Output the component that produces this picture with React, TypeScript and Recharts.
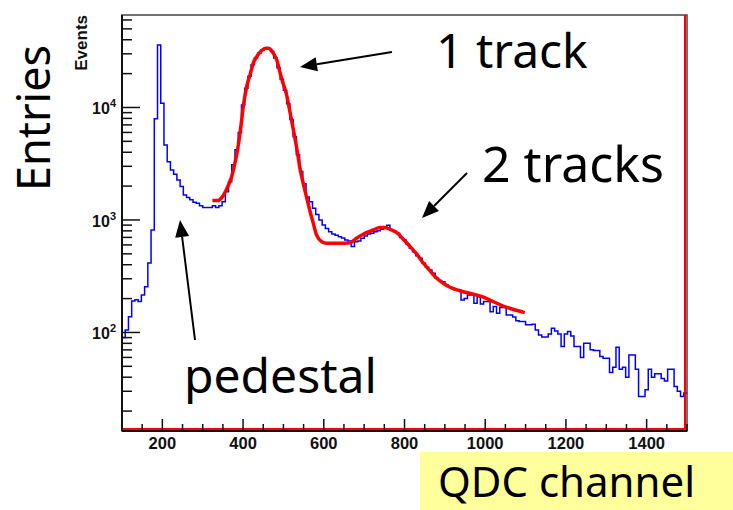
import { Line, LineChart, ReferenceArea, ReferenceLine, XAxis, YAxis } from "recharts";

// QDC spectrum, 8-channel bins starting at channel 100
const BIN_LOW = 100;
const BIN_WIDTH = 8;
const binEntries = [
  90, 105, 138, 190, 195, 188, 215, 255, 415, 815,
  7950, 36000, 10900, 4640, 3300, 2780, 2550, 2270, 1980, 1670,
  1580, 1510, 1440, 1410, 1340, 1290, 1290, 1290, 1340, 1290,
  1340, 1455, 1780, 2190, 3100, 4200, 6000, 10500, 14800, 19000,
  24000, 27600, 30300, 32500, 33500, 33600, 31500, 27500, 22500, 17800,
  14200, 10800, 7800, 5500, 3800, 2700, 2100, 1600, 1455, 1270,
  1120, 1000, 900, 840, 787, 750, 730, 711, 690, 664,
  650, 580, 641, 650, 688, 721, 751, 760, 787, 800,
  826, 860, 897, 815, 790, 760, 700, 664, 610, 560,
  523, 480, 456, 412, 380, 359, 336, 303, 290, 283,
  264, 255, 247, 239, 239, 194, 200, 215, 215, 182,
  208, 179, 188, 188, 153, 170, 148, 167, 167, 143,
  143, 137, 127, 125, 125, 117, 117, 118, 105, 95,
  91, 91, 97, 109, 103, 97, 75, 97, 102, 93,
  75, 75, 60, 80, 80, 70, 69, 69, 61, 59,
  59, 44, 49, 74, 47, 49, 40, 63, 63, 47,
  27, 27, 31, 47, 40, 43, 43, 39, 37, 47,
  47, 33, 30, 27, 29,
];

// fitted curve (1 track + 2 tracks + tail)
const fitChannel = [
  324, 338, 346, 354, 362, 371, 379, 387, 396, 401,
  409, 417, 425, 433, 441, 449, 457, 463, 470, 477,
  485, 491, 498, 508, 516, 524, 533, 541, 549, 557,
  566, 574, 582, 595, 607, 640, 665, 681, 702, 723,
  739, 752, 764, 781, 797, 814, 830, 847, 863, 880,
  896, 913, 937, 970, 999, 1012, 1037, 1061, 1098,
];
const fitValue = [
  1490, 1490, 1560, 1720, 1980, 2380, 3100, 4340, 7480, 10500,
  15300, 19400, 24700, 28000, 30800, 32700, 33600, 33700, 32200, 29500,
  25500, 20800, 16900, 12900, 9200, 6530, 4340, 2880, 2120, 1610,
  1190, 935, 736, 641, 621, 621, 628, 688, 762, 815,
  855, 855, 826, 771, 673, 579, 499, 412, 354, 303,
  274, 252, 235, 219, 204, 194, 176, 164, 150,
];

const xTicks = [
  100, 150, 200, 250, 300, 350, 400, 450, 500, 550, 600, 650, 700, 750, 800,
  850, 900, 950, 1000, 1050, 1100, 1150, 1200, 1250, 1300, 1350, 1400, 1450, 1500,
];
const xLabels = [200, 400, 600, 800, 1000, 1200, 1400];
const yTicks = [
  20, 30, 40, 50, 60, 70, 80, 90,
  100, 200, 300, 400, 500, 600, 700, 800, 900,
  1000, 2000, 3000, 4000, 5000, 6000, 7000, 8000, 9000,
  10000, 20000, 30000, 40000, 50000, 60000,
];
const yDecades = [100, 1000, 10000];

const X_MIN = 100;
const X_MAX = 1500;
const Y_MIN = 13.3;
const Y_MAX = 66400;

const histData = [
  ...binEntries.map((n, i) => ({ channel: BIN_LOW + i * BIN_WIDTH, n })),
  { channel: BIN_LOW + binEntries.length * BIN_WIDTH, n: binEntries[binEntries.length - 1] },
];
const fitData = fitChannel.map((channel, i) => ({ channel, n: fitValue[i] }));

const AXIS_FONT = "'Liberation Sans', Arial, Helvetica, sans-serif";
const NOTE_FONT = "'Comic Sans MS', 'Noto Sans', sans-serif";
const INK = "#111";

// ROOT-style ticks: drawn inward from the frame
function XTick({ x, y, payload }: any) {
  const v = payload.value;
  const major = xLabels.includes(v);
  return (
    <g>
      <line x1={x} x2={x} y1={y} y2={y - (major ? 12 : 7)} stroke={INK} strokeWidth={1.5} />
      {major ? (
        <text x={x} y={y + 18} textAnchor="middle" fontFamily={AXIS_FONT} fontWeight="bold" fontSize={16.5} fill={INK}>
          {v}
        </text>
      ) : null}
    </g>
  );
}

function YTick({ x, y, payload }: any) {
  const v = payload.value;
  const major = yDecades.includes(v);
  return (
    <g>
      <line x1={x} x2={x + (major ? 18 : 10)} y1={y} y2={y} stroke={INK} strokeWidth={1.5} />
      {major ? (
        <text x={x - 6} y={y + 7} textAnchor="end" fontFamily={AXIS_FONT} fontWeight="bold" fontSize={16} fill={INK}>
          10
          <tspan dy={-7} fontSize={11}>
            {Math.round(Math.log10(v))}
          </tspan>
        </text>
      ) : null}
    </g>
  );
}

function Arrow({ from, to }: { from: [number, number]; to: [number, number] }) {
  const [x1, y1] = from;
  const [x2, y2] = to;
  const len = Math.hypot(x2 - x1, y2 - y1);
  const ux = (x2 - x1) / len;
  const uy = (y2 - y1) / len;
  const head = 17;
  const half = 7;
  const bx = x2 - ux * head;
  const by = y2 - uy * head;
  return (
    <g>
      <line x1={x1} y1={y1} x2={bx} y2={by} stroke="#000" strokeWidth={2} />
      <polygon
        points={`${x2},${y2} ${bx - uy * half},${by + ux * half} ${bx + uy * half},${by - ux * half}`}
        fill="#000"
      />
    </g>
  );
}

export default function App() {
  return (
    <div style={{ position: "absolute", left: 0, top: 0, width: 733, height: 510, background: "#fff" }}>
      <LineChart width={733} height={510} margin={{ top: 15, right: 46, bottom: 78, left: 121 }}>
        <XAxis
          dataKey="channel"
          type="number"
          domain={[X_MIN, X_MAX]}
          ticks={xTicks}
          interval={0}
          height={1}
          tickSize={0}
          tickMargin={0}
          tickLine={false}
          tick={XTick}
          axisLine={{ stroke: INK, strokeWidth: 2 }}
          allowDataOverflow
        />
        <YAxis
          type="number"
          scale="log"
          domain={[Y_MIN, Y_MAX]}
          ticks={yTicks}
          interval={0}
          width={1}
          tickSize={0}
          tickMargin={0}
          tickLine={false}
          tick={YTick}
          axisLine={{ stroke: INK, strokeWidth: 2 }}
          allowDataOverflow
        />
        <ReferenceArea x1={X_MIN} x2={X_MAX} y1={Y_MIN} y2={Y_MAX} fill="none" stroke="#444" strokeWidth={1.5} />
        <Line
          data={histData}
          dataKey="n"
          type="stepAfter"
          stroke="#0000ff"
          strokeWidth={1.5}
          dot={false}
          activeDot={false}
          isAnimationActive={false}
        />
        <Line
          data={fitData}
          dataKey="n"
          type="monotone"
          stroke="#ff0000"
          strokeWidth={3.5}
          dot={false}
          activeDot={false}
          isAnimationActive={false}
        />
        <ReferenceLine
          x={X_MAX}
          shape={(p: any) => (
            <line x1={p.x1 - 2} x2={p.x2 - 2} y1={p.y1} y2={p.y2} stroke="#ff0000" strokeWidth={2} />
          )}
        />
        <ReferenceLine
          y={Y_MIN}
          shape={(p: any) => (
            <line x1={p.x1} x2={p.x2} y1={p.y1 - 2} y2={p.y2 - 2} stroke="#ff0000" strokeWidth={2} />
          )}
        />
      </LineChart>

      <svg width={733} height={510} style={{ position: "absolute", left: 0, top: 0, pointerEvents: "none" }}>
        <text
          transform="translate(87,15) rotate(-90)"
          textAnchor="end"
          fontFamily={AXIS_FONT}
          fontWeight="bold"
          fontSize={17}
          fill={INK}
        >
          Events
        </text>
        <text transform="translate(50,118) rotate(-90)" textAnchor="middle" fontFamily={NOTE_FONT} fontSize={45} fill="#000">
          Entries
        </text>

        <text x={436} y={68} fontFamily={NOTE_FONT} fontSize={48} fill="#000">
          1 track
        </text>
        <Arrow from={[392, 52]} to={[300, 67]} />

        <text x={482} y={182} fontFamily={NOTE_FONT} fontSize={50} fill="#000">
          2 tracks
        </text>
        <Arrow from={[467, 173]} to={[422, 218]} />

        <text x={184} y={393} fontFamily={NOTE_FONT} fontSize={48} fill="#000">
          pedestal
        </text>
        <Arrow from={[195, 340]} to={[180, 220]} />

        <rect x={420} y={452} width={313} height={58} fill="#ffff9c" />
        <text x={438} y={497} fontFamily={NOTE_FONT} fontSize={42} fill="#000">
          QDC channel
        </text>
      </svg>
    </div>
  );
}
